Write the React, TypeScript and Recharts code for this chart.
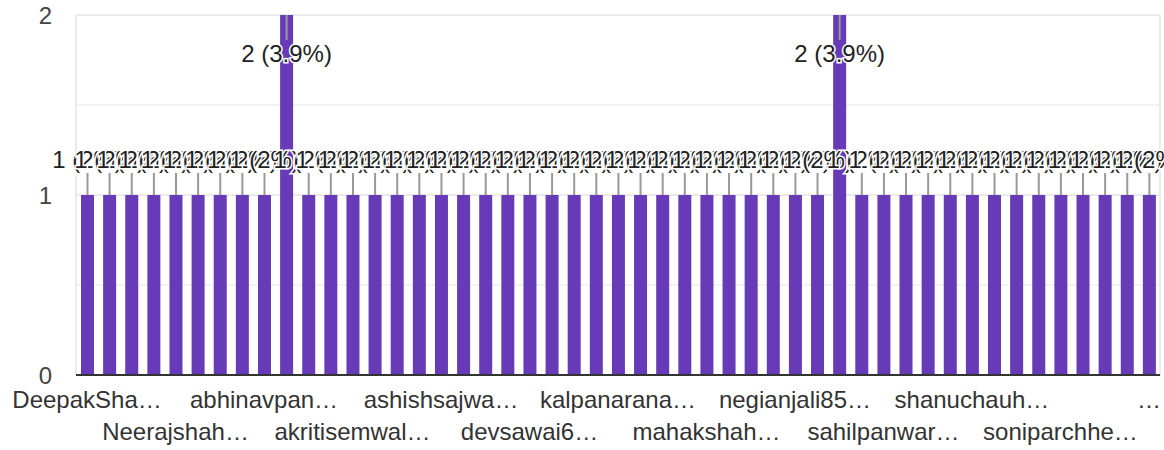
import React from "react";
import { BarChart, Bar, XAxis, YAxis, CartesianGrid, LabelList } from "recharts";

// Responses per respondent (sorted alphabetically, as in the source chart)
const counts = [
  1, 1, 1, 1, 1, 1, 1, 1, 1, 2,
  1, 1, 1, 1, 1, 1, 1, 1, 1, 1,
  1, 1, 1, 1, 1, 1, 1, 1, 1, 1,
  1, 1, 1, 1, 2, 1, 1, 1, 1, 1,
  1, 1, 1, 1, 1, 1, 1, 1, 1,
];

// Visible (truncated) category labels, one every 4 categories
const tickLabels = [
  "DeepakSha…",
  "Neerajshah…",
  "abhinavpan…",
  "akritisemwal…",
  "ashishsajwa…",
  "devsawai6…",
  "kalpanarana…",
  "mahakshah…",
  "negianjali85…",
  "sahilpanwar…",
  "shanuchauh…",
  "soniparchhe…",
  "…",
];
const tickStep = 4;

const yDomain = [0, 2];
const yTicks = [0, 1, 2];
const majorGrid = [1, 2];
const minorGrid = [0.5, 1.5];

const total = counts.reduce((a, b) => a + b, 0);
const maxCount = Math.max(...counts);

const data = counts.map((v, i) => ({ idx: i, value: v }));

const FONT = "Arial, 'Liberation Sans', sans-serif";
const FS = 24;

const fmt = (v: number) => `${v} (${+((v / total) * 100).toFixed(1)}%)`;

const gridGen = (values: number[]) => (p: any) => {
  const sc = p && p.yAxis && p.yAxis.scale;
  return values.map((v) => {
    if (typeof sc === "function") return sc(v);
    return p.offset.top + p.offset.height * (1 - (v - yDomain[0]) / (yDomain[1] - yDomain[0]));
  });
};

const AnnotationLabel = (props: any) => {
  const vb = props.viewBox && props.viewBox.width !== undefined ? props.viewBox : props;
  const x = Number(vb.x);
  const y = Number(vb.y);
  const w = Number(vb.width);
  const v = Number(props.value);
  const cx = x + w / 2;
  const inside = v >= maxCount;
  const stemEnd = inside ? y + 25 : y - 22;
  const baseY = inside ? y + 47 : y - 27;
  return (
    <g>
      <line x1={cx} y1={y} x2={cx} y2={stemEnd} stroke="#999999" strokeWidth={2} />
      <text
        x={cx}
        y={baseY}
        textAnchor="middle"
        fontFamily={FONT}
        fontSize={FS}
        fill="#222222"
        stroke="#ffffff"
        strokeWidth={3}
        paintOrder="stroke"
      >
        {fmt(v)}
      </text>
    </g>
  );
};

const XTick = (props: any) => {
  const { x, y, payload } = props;
  const i = Number(payload.value);
  if (i % tickStep !== 0) return null;
  const k = i / tickStep;
  const row = k % 2;
  return (
    <text
      x={x}
      y={y}
      dy={row === 0 ? 33 : 65}
      textAnchor="middle"
      fontFamily={FONT}
      fontSize={FS}
      fill="#333333"
    >
      {tickLabels[k]}
    </text>
  );
};

export default function App() {
  return (
    <div style={{ position: "absolute", left: 0, top: 0, background: "#ffffff" }}>
      <BarChart
        width={1164}
        height={450}
        data={data}
        margin={{ top: 15, right: 4, bottom: 0, left: 0 }}
        barSize={13}
      >
        <CartesianGrid
          horizontal={true}
          vertical={false}
          stroke="#f3f3f3"
          strokeWidth={2}
          horizontalCoordinatesGenerator={gridGen(minorGrid)}
        />
        <CartesianGrid
          horizontal={true}
          vertical={true}
          stroke="#ebebeb"
          strokeWidth={2}
          horizontalCoordinatesGenerator={gridGen(majorGrid)}
          verticalCoordinatesGenerator={(p: any) => [p.offset.left, p.offset.left + p.offset.width]}
        />
        <XAxis
          dataKey="idx"
          type="category"
          interval={tickStep - 1}
          height={75}
          tickLine={false}
          tickSize={0}
          tickMargin={0}
          axisLine={{ stroke: "#333333", strokeWidth: 2 }}
          tick={<XTick />}
        />
        <YAxis
          domain={yDomain}
          ticks={yTicks}
          width={76}
          axisLine={false}
          tickLine={false}
          tickMargin={18}
          tick={{ fill: "#444444", fontSize: FS, fontFamily: FONT }}
        />
        <Bar dataKey="value" fill="#673ab7" isAnimationActive={false}>
          <LabelList dataKey="value" content={<AnnotationLabel />} />
        </Bar>
      </BarChart>
    </div>
  );
}
